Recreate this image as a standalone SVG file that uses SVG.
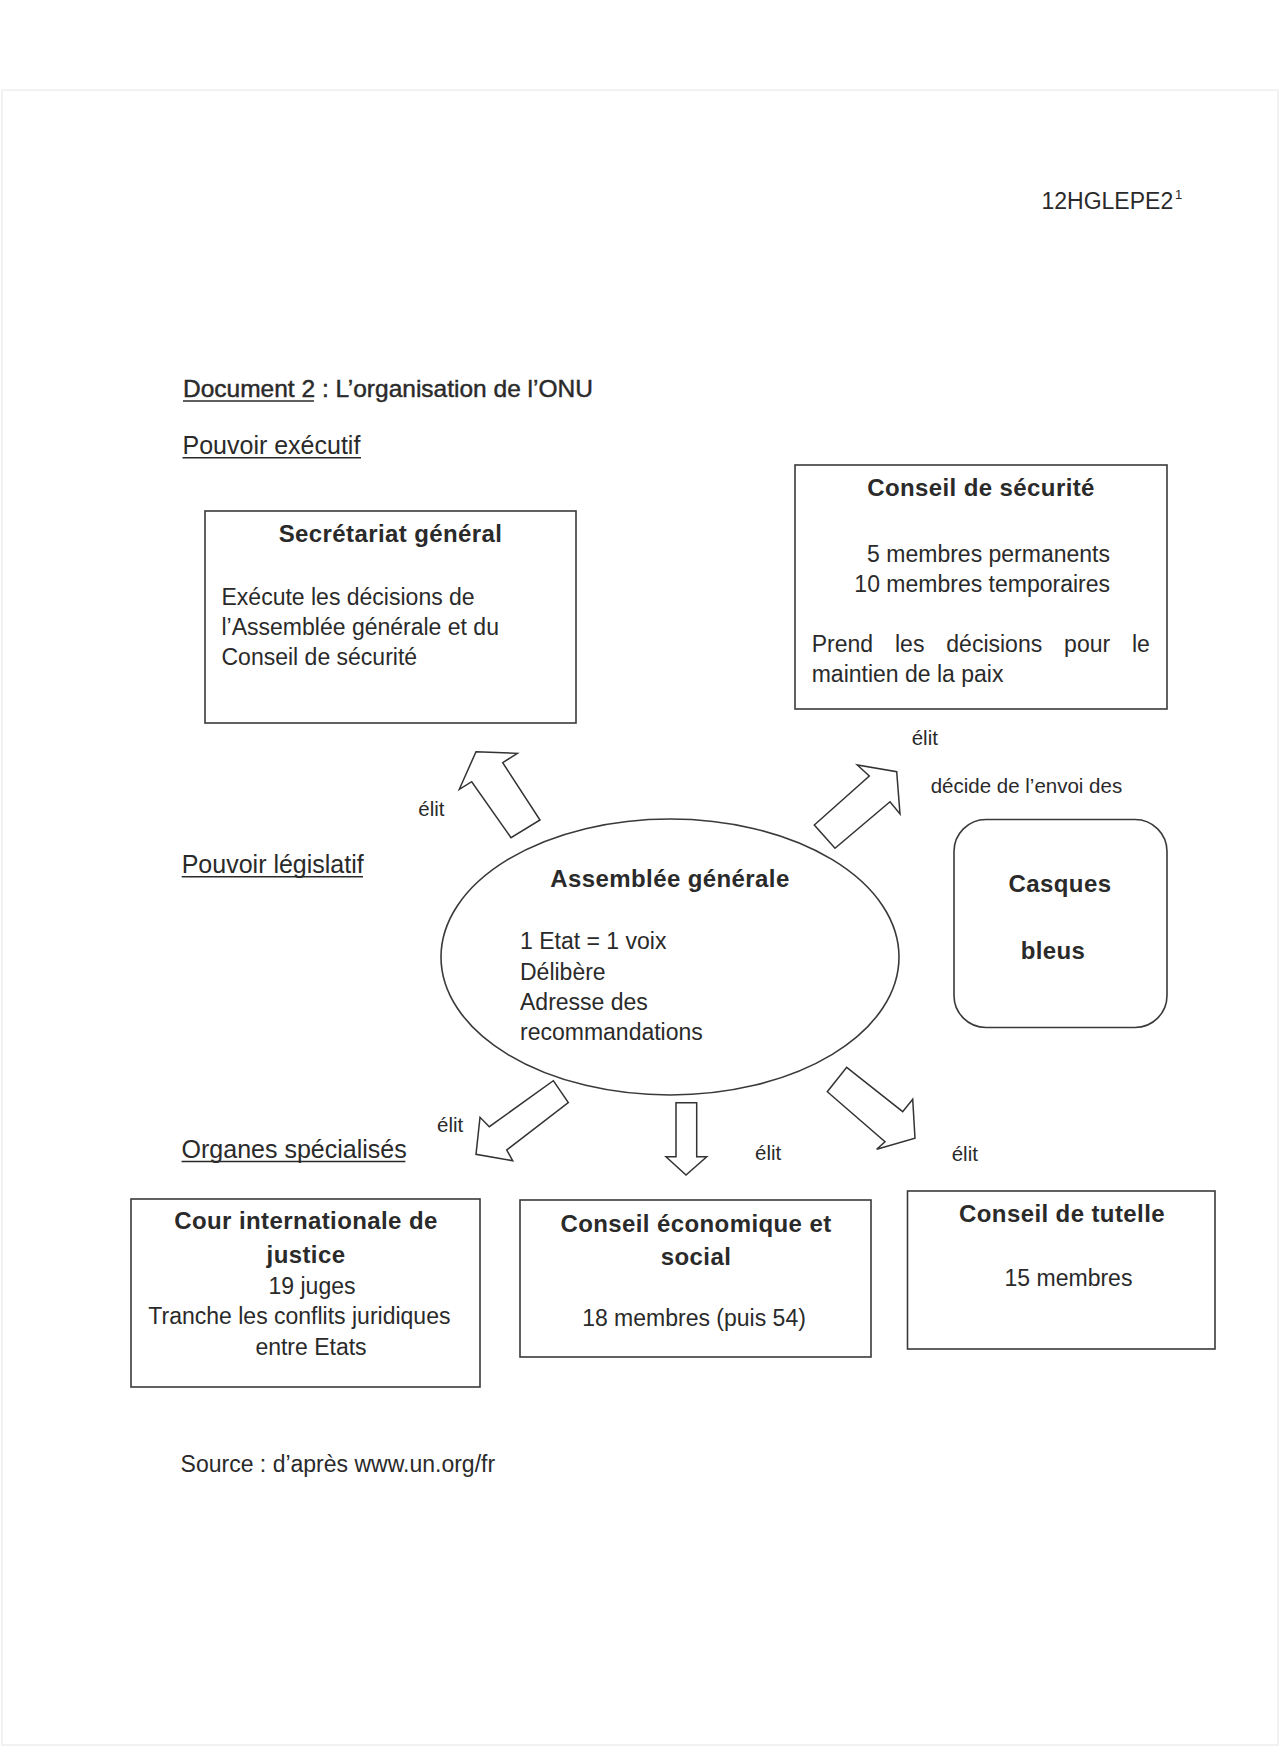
<svg xmlns="http://www.w3.org/2000/svg" width="1281" height="1752" viewBox="0 0 1281 1752">
<style>
.t{font-family:"Liberation Sans",Arial,Helvetica,sans-serif;fill:#2a2a2a}
.b{font-weight:bold;font-size:24px;letter-spacing:0.4px}
.r{font-size:23px}
.s{font-size:20.5px}
.h{font-size:25px}
.m{text-anchor:middle}
.box{fill:none;stroke:#3a3a3a;stroke-width:1.6}
.arr{fill:#fff;stroke:#333;stroke-width:1.5;stroke-linejoin:miter}
.ul{stroke:#2a2a2a;stroke-width:1.4}
</style>
<rect width="1281" height="1752" fill="#fff"/>
<rect x="2" y="90" width="1276" height="1655" fill="none" stroke="#eeeeee" stroke-width="1.5"/>

<g id="header">
  <text class="t" x="1041.5" y="209.3" style="font-size:23px">12HGLEPE2</text>
  <text class="t" x="1175" y="199" style="font-size:13px">1</text>
  <text class="t" x="183" y="396.7" style="font-size:24.5px;stroke:#2a2a2a;stroke-width:0.45">Document 2 : L’organisation de l’ONU</text>
  <line class="ul" x1="183" y1="401" x2="314" y2="401"/>
  <text class="t h" x="182.5" y="454">Pouvoir exécutif</text>
  <line class="ul" x1="182.5" y1="457.7" x2="361" y2="457.7"/>
  <text class="t h" x="181.7" y="873.3">Pouvoir législatif</text>
  <line class="ul" x1="181.7" y1="876.7" x2="363" y2="876.7"/>
  <text class="t h" x="181.6" y="1158.3">Organes spécialisés</text>
  <line class="ul" x1="181.6" y1="1161.5" x2="405.4" y2="1161.5"/>
  <text class="t r" x="180.6" y="1471.7">Source : d’après www.un.org/fr</text>
</g>

<g id="connectors">
  <polygon class="arr" points="476,751.7 517.3,753.3 502.7,762.7 540,820 511,837.7 471.7,781.7 459.3,789.3"/>
  <polygon class="arr" points="814.3,825 869.3,776 857.3,765 896.7,771.7 900,814 890,801.7 835,848.3"/>
  <polygon class="arr" points="553.3,1080.7 568.3,1102.7 506.7,1150 512.7,1160.7 476,1154.3 480,1117.3 489.3,1126.7"/>
  <polygon class="arr" points="676,1102.7 696.7,1102.7 696.7,1156.7 706.7,1156.7 686,1175 666,1156.7 676,1156.7"/>
  <polygon class="arr" points="846.7,1067.3 902.7,1111.7 912.7,1099.3 915,1138.3 876.7,1149.3 885,1141.7 827.3,1091.7"/>
  <text class="t s" x="418.3" y="816">élit</text>
  <text class="t s" x="911.7" y="745">élit</text>
  <text class="t s" x="930.7" y="793.3">décide de l’envoi des</text>
  <text class="t s" x="437" y="1131.7">élit</text>
  <text class="t s" x="755" y="1160">élit</text>
  <text class="t s" x="951.7" y="1161">élit</text>
</g>

<g id="node-secretariat">
  <rect class="box" x="205" y="511" width="371" height="212"/>
  <text class="t b m" x="390.5" y="542">Secrétariat général</text>
  <text class="t r" x="221.5" y="605">Exécute les décisions de</text>
  <text class="t r" x="221.5" y="635">l’Assemblée générale et du</text>
  <text class="t r" x="221.5" y="665">Conseil de sécurité</text>
</g>

<g id="node-conseil-securite">
  <rect class="box" x="795" y="465" width="372" height="244"/>
  <text class="t b m" x="981" y="496">Conseil de sécurité</text>
  <text class="t r" x="1110" y="561.7" text-anchor="end">5 membres permanents</text>
  <text class="t r" x="1110" y="591.7" text-anchor="end">10 membres temporaires</text>
  <text class="t r" y="651.7"><tspan x="811.7">Prend</tspan><tspan x="895">les</tspan><tspan x="946.3">décisions</tspan><tspan x="1064.1">pour</tspan><tspan x="1132">le</tspan></text>
  <text class="t r" x="811.7" y="681.7">maintien de la paix</text>
</g>

<g id="node-assemblee">
  <ellipse class="box" cx="670" cy="957" rx="229" ry="138"/>
  <text class="t b m" x="670" y="886.7">Assemblée générale</text>
  <text class="t r" x="520" y="949.3">1 Etat = 1 voix</text>
  <text class="t r" x="520" y="980">Délibère</text>
  <text class="t r" x="520" y="1010">Adresse des</text>
  <text class="t r" x="520" y="1040">recommandations</text>
</g>

<g id="node-casques">
  <rect class="box" x="954" y="819.5" width="213" height="208" rx="32" ry="32"/>
  <text class="t b m" x="1060" y="892.3">Casques</text>
  <text class="t b m" x="1053" y="959">bleus</text>
</g>

<g id="node-cij">
  <rect class="box" x="131" y="1199" width="349" height="188"/>
  <text class="t b m" x="306" y="1229.3">Cour internationale de</text>
  <text class="t b m" x="306" y="1262.7">justice</text>
  <text class="t r m" x="312" y="1294">19 juges</text>
  <text class="t r m" x="299.4" y="1324">Tranche les conflits juridiques</text>
  <text class="t r m" x="311" y="1355">entre Etats</text>
</g>

<g id="node-ecosoc">
  <rect class="box" x="520" y="1200" width="351" height="157"/>
  <text class="t b m" x="696" y="1231.5">Conseil économique et</text>
  <text class="t b m" x="696" y="1265">social</text>
  <text class="t r m" x="694" y="1326">18 membres (puis 54)</text>
</g>

<g id="node-tutelle">
  <rect class="box" x="907.5" y="1191" width="307.5" height="158"/>
  <text class="t b m" x="1062" y="1221.7">Conseil de tutelle</text>
  <text class="t r m" x="1068.5" y="1285.7">15 membres</text>
</g>
</svg>
